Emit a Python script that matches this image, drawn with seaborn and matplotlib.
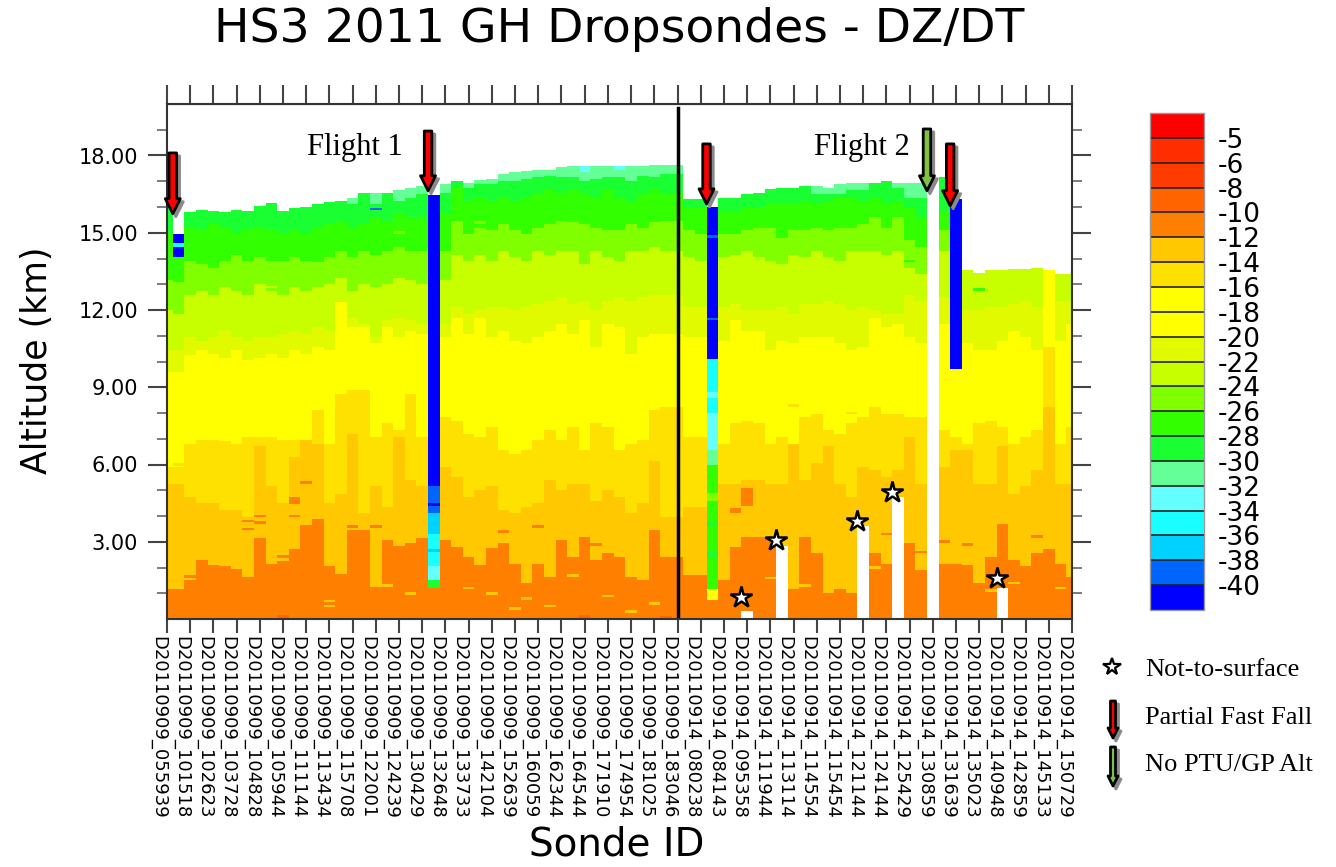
import numpy as np
import matplotlib
matplotlib.use('Agg')
import matplotlib.pyplot as plt
import matplotlib.transforms as mtransforms
from matplotlib.colors import ListedColormap, BoundaryNorm
from matplotlib.patches import FancyArrowPatch
from matplotlib.lines import Line2D
import seaborn as sns

# labelled sondes (every other column of the raster carries a label)
sonde_ids = ['D20110909_055939', 'D20110909_101518', 'D20110909_102623', 'D20110909_103728',
             'D20110909_104828', 'D20110909_105944', 'D20110909_111144', 'D20110909_113434',
             'D20110909_115708', 'D20110909_122001', 'D20110909_124239', 'D20110909_130429',
             'D20110909_132648', 'D20110909_133733', 'D20110909_142104', 'D20110909_152639',
             'D20110909_160059', 'D20110909_162344', 'D20110909_164544', 'D20110909_171910',
             'D20110909_174954', 'D20110909_181025', 'D20110909_183046', 'D20110914_080238',
             'D20110914_084143', 'D20110914_095358', 'D20110914_111944', 'D20110914_113114',
             'D20110914_114554', 'D20110914_115454', 'D20110914_121144', 'D20110914_124144',
             'D20110914_125429', 'D20110914_130859', 'D20110914_131639', 'D20110914_135023',
             'D20110914_140948', 'D20110914_142859', 'D20110914_145133', 'D20110914_150729']

# colour levels of DZ/DT (m/s)
levels = [-40, -38, -36, -34, -32, -30, -28, -26, -24, -22, -20, -18, -16, -14, -12, -10, -8, -6, -5]
colors = ['#0000FF', '#0064FF', '#00D2FF', '#19FFFF', '#64FFFF', '#64FF96', '#19FF32', '#32FF00',
          '#80FF00', '#C8FF00', '#E1FA00', '#FFFF00', '#FFFF00', '#FFE100', '#FFC800', '#FF8000',
          '#FF6400', '#FF3C00', '#FF2D00', '#FF0000']

# per raster column: altitude (km) of the top of data and of each band change, bottom up
top_km = [15.98, 14.05, 15.79, 15.92, 15.83, 15.79, 15.88, 15.85, 16.05, 16.14,
          15.85, 15.95, 16.01, 16.09, 16.18, 16.24, 16.37, 16.53, 16.53, 16.57,
          16.66, 16.73, 16.82, 1.19, 16.91, 16.99, 16.95, 17.04, 17.08, 17.28,
          17.34, 17.40, 17.43, 17.47, 17.53, 17.60, 17.60, 17.60, 17.60, 17.60,
          17.60, 17.60, 17.66, 17.66, 17.66, 16.31, 16.31, 0.74, 16.37, 16.37,
          16.50, 16.57, 16.69, 16.76, 16.76, 16.82, 16.82, 16.76, 16.89, 16.95,
          16.95, 16.95, 16.99, 16.95, 16.95, 16.95, 0.0, 17.15, 9.72, 13.53,
          13.46, 13.53, 13.55, 13.59, 13.59, 13.63, 13.55, 13.42, 13.42]
# -11 band (orange) up to c_bot
c_bot = [1.13, 1.13, 1.71, 2.29, 2.10, 2.03, 1.97, 1.64, 3.13, 2.16,
         2.48, 2.68, 3.65, 3.90, 2.03, 1.77, 3.45, 3.45, 1.25, 3.06,
         2.87, 2.94, 3.13, 1.19, 3.06, 2.81, 2.42, 2.10, 2.74, 2.94,
         2.16, 1.38, 2.16, 1.64, 3.06, 2.42, 3.19, 2.29, 2.55, 2.42,
         1.64, 1.51, 3.45, 2.42, 2.42, 1.71, 1.71, 0.74, 1.51, 2.81,
         3.19, 3.19, 3.19, 2.68, 1.13, 3.19, 2.55, 1.00, 1.13, 1.00,
         1.38, 2.55, 2.16, 2.03, 2.94, 1.90, 0.0, 2.16, 2.16, 2.10,
         1.38, 2.42, 3.71, 2.29, 2.03, 2.55, 2.68, 2.16, 1.64]
d_bot = [5.26, 5.26, 4.74, 4.48, 4.48, 4.23, 4.23, 3.97, 6.68, 5.13,
         4.48, 6.29, 6.94, 6.81, 4.48, 4.87, 7.20, 4.10, 5.13, 4.36,
         7.07, 5.39, 5.13, 1.19, 5.91, 5.52, 4.74, 5.00, 5.13, 4.23,
         4.10, 4.36, 4.48, 5.39, 5.00, 5.26, 5.26, 4.61, 5.00, 4.74,
         4.10, 4.48, 6.16, 3.97, 3.97, 4.36, 4.36, 0.74, 5.26, 5.26,
         5.39, 5.39, 5.26, 5.26, 6.81, 5.39, 6.03, 6.68, 5.26, 4.74,
         5.91, 5.78, 5.52, 5.78, 7.07, 5.26, 0.0, 5.91, 6.55, 6.55,
         5.26, 5.26, 6.68, 4.87, 5.13, 5.78, 8.23, 5.26, 5.26]
y_bot = [5.91, 5.91, 6.81, 6.94, 6.94, 6.88, 6.81, 7.07, 7.07, 7.07,
         6.94, 6.94, 6.94, 8.10, 6.81, 8.75, 8.88, 8.88, 7.07, 7.59,
         7.33, 8.75, 7.07, 1.19, 7.84, 7.71, 7.20, 7.07, 7.46, 6.55,
         6.42, 6.55, 6.94, 7.33, 6.94, 7.46, 6.55, 7.59, 7.46, 6.55,
         6.81, 6.94, 8.10, 8.23, 8.23, 7.07, 7.07, 0.74, 6.81, 7.59,
         7.71, 7.59, 6.81, 7.07, 6.81, 7.84, 7.97, 7.33, 7.20, 7.59,
         7.84, 8.23, 7.97, 7.97, 7.84, 7.84, 0.0, 7.33, 7.07, 6.81,
         7.59, 7.71, 7.46, 6.81, 7.07, 7.33, 10.56, 6.81, 7.46]
f_bot = [9.59, 9.59, 10.23, 10.43, 10.30, 10.17, 10.43, 10.04, 10.17, 10.30,
         10.17, 10.43, 10.30, 10.56, 10.43, 12.30, 11.33, 11.33, 10.69, 11.33,
         10.94, 11.20, 11.07, 1.19, 10.94, 11.72, 11.07, 11.72, 10.94, 11.20,
         10.82, 10.69, 10.94, 11.20, 11.46, 11.07, 11.59, 10.56, 11.46, 11.33,
         10.30, 10.94, 11.07, 11.07, 11.07, 10.94, 10.94, 0.74, 10.82, 11.59,
         11.20, 11.20, 10.43, 10.82, 10.69, 10.94, 10.94, 10.94, 10.69, 10.43,
         10.56, 11.72, 11.33, 11.46, 10.94, 10.69, 0.0, 11.46, 9.72, 10.69,
         10.43, 10.43, 10.82, 11.20, 10.94, 10.43, 13.55, 10.82, 11.46]
g_bot = [10.43, 10.43, 10.94, 10.82, 10.94, 11.20, 10.94, 10.82, 10.94, 10.94,
         11.07, 11.20, 11.07, 11.33, 11.20, 12.30, 11.72, 11.46, 10.94, 11.59,
         11.72, 11.59, 11.46, 1.19, 11.46, 12.11, 11.85, 11.98, 12.11, 12.11,
         11.98, 12.11, 12.24, 12.37, 12.50, 12.24, 12.37, 11.98, 12.37, 12.50,
         12.37, 12.50, 12.62, 12.62, 12.62, 12.11, 12.11, 0.74, 12.11, 12.24,
         11.98, 11.98, 11.98, 12.11, 11.85, 12.24, 12.24, 12.37, 12.24, 11.98,
         12.11, 11.98, 11.85, 11.85, 12.62, 12.37, 0.0, 12.50, 9.72, 11.98,
         11.98, 12.11, 12.11, 12.24, 12.37, 12.11, 13.55, 12.37, 12.37]
h_bot = [11.98, 11.85, 12.62, 12.75, 12.62, 12.88, 12.75, 12.62, 13.01, 12.75,
         12.62, 12.88, 12.75, 12.88, 13.01, 13.27, 12.75, 13.01, 12.88, 13.01,
         13.27, 13.14, 13.01, 1.19, 13.14, 14.17, 13.92, 14.17, 13.92, 14.30,
         14.05, 13.92, 14.30, 14.17, 14.30, 14.30, 13.79, 14.30, 14.05, 13.92,
         14.30, 14.30, 14.43, 14.30, 14.30, 14.05, 13.92, 0.74, 14.05, 14.17,
         14.30, 14.05, 13.92, 13.79, 14.17, 14.05, 14.30, 14.05, 13.92, 14.30,
         14.30, 14.30, 14.17, 14.30, 13.66, 13.40, 0.0, 14.30, 9.72, 13.53,
         13.46, 13.53, 13.55, 13.59, 13.59, 13.63, 13.55, 13.42, 13.42]
i_bot = [13.14, 13.08, 13.92, 13.79, 13.66, 13.92, 14.17, 13.92, 14.05, 13.92,
         13.92, 14.05, 13.92, 13.92, 14.05, 14.30, 14.05, 14.30, 14.17, 14.30,
         14.43, 14.30, 14.30, 1.19, 14.30, 15.47, 14.95, 15.21, 15.08, 15.34,
         15.08, 14.95, 15.21, 15.34, 15.47, 15.40, 15.34, 15.21, 15.08, 15.08,
         15.34, 15.21, 15.40, 15.47, 15.47, 15.08, 14.95, 0.74, 14.95, 14.95,
         15.08, 15.21, 15.21, 14.82, 15.08, 15.08, 15.21, 15.08, 15.21, 15.21,
         15.34, 15.60, 15.21, 15.60, 14.69, 14.43, 0.0, 15.08, 9.72, 13.53,
         13.46, 13.53, 13.55, 13.59, 13.59, 13.63, 13.55, 13.42, 13.42]
j_bot = [14.95, 14.05, 15.21, 15.08, 15.34, 15.21, 14.95, 15.08, 15.21, 15.08,
         14.95, 15.08, 14.95, 15.21, 15.34, 15.47, 15.21, 15.34, 15.60, 15.47,
         15.73, 15.60, 15.60, 1.19, 15.73, 16.76, 16.24, 16.37, 16.24, 16.37,
         16.24, 16.37, 16.50, 16.63, 16.50, 16.63, 16.50, 16.37, 16.63, 16.37,
         16.24, 16.50, 16.63, 16.50, 16.50, 15.98, 15.98, 0.74, 15.85, 15.85,
         15.98, 15.98, 16.11, 16.11, 16.11, 16.24, 16.11, 16.24, 16.37, 16.37,
         16.24, 16.37, 16.11, 16.24, 15.98, 15.60, 0.0, 15.85, 9.72, 13.53,
         13.46, 13.53, 13.55, 13.59, 13.59, 13.63, 13.55, 13.42, 13.42]
# start of the -31 band at the top (20 = none)
k_bot = [20.0] * 16 + [16.11, 20.0, 16.11, 20.0, 16.24, 16.37, 16.50, 20.0, 16.57, 20.0,
         16.76, 16.89, 16.89, 17.02, 17.02, 17.08, 17.15, 17.21, 17.15, 17.15,
         17.02, 17.08, 17.15, 17.15, 17.02, 17.21, 17.15, 17.28, 17.28] + [20.0] * 11 + \
        [16.50, 16.50, 16.50, 16.63, 16.63, 20.0, 20.0, 16.76, 16.37, 16.37] + [20.0] * 13
band_vals = [-11, -13, -15, -18, -21, -23, -25, -27, -29, -31]

# fast-fall and other odd pieces: column, bottom km, top km, value
special = [(1, 14.05, 14.96, -45), (1, 14.45, 14.58, -35), (18, 15.88, 15.96, -39),
           (23, 1.19, 1.52, -29), (23, 1.52, 2.03, -33), (23, 2.03, 3.32, -35), (23, 2.6, 2.7, -37),
           (23, 3.32, 4.10, -37), (23, 4.10, 5.13, -39), (23, 4.4, 4.5, -45), (23, 5.13, 16.43, -45),
           (36, 17.35, 17.60, -33), (39, 17.45, 17.60, -33),
           (47, 0.74, 1.13, -19), (47, 1.13, 6.0, -27), (47, 2.4, 2.6, -29), (47, 3.6, 3.8, -29),
           (47, 4.6, 4.9, -25), (47, 6.0, 6.55, -31), (47, 6.55, 8.0, -33), (47, 8.0, 10.1, -35),
           (47, 8.6, 8.8, -33), (47, 10.1, 15.98, -45), (47, 11.6, 11.7, -39), (47, 14.8, 14.9, -39),
           (68, 9.72, 16.30, -45), (11, 4.45, 4.75, -11), (50, 4.40, 5.10, -11), (49, 4.1, 4.3, -11)]

# thin one-level streaks: column, altitude km, value
streaks = [(1, 6.0, -15), (2, 1.55, -13), (4, 2.2, -13), (5, 2.1, -13), (7, 3.5, -11), (7, 3.8, -11),
           (8, 4.0, -11), (8, 3.75, -11), (10, 2.3, -13), (11, 4.0, -11), (12, 5.3, -11), (14, 0.7, -13),
           (14, 0.5, -13), (16, 3.6, -11), (18, 3.6, -11), (19, 1.3, -13), (21, 1.0, -13), (13, 13.9, -27),
           (5, 13.1, -25), (9, 12.9, -23), (17, 13.6, -25), (20, 15.0, -25), (26, 1.2, -13), (28, 1.0, -13),
           (30, 0.4, -13), (31, 0.8, -13), (33, 0.5, -13), (35, 1.7, -13), (38, 0.9, -13), (40, 0.3, -13),
           (42, 0.6, -13), (29, 3.4, -11), (32, 3.6, -11), (37, 2.9, -11), (41, 3.3, -13), (39, 14.8, -25),
           (34, 14.6, -25), (27, 15.4, -25), (45, 1.9, -13), (46, 2.3, -13), (48, 2.0, -13), (52, 1.6, -13),
           (55, 1.3, -13), (57, 2.4, -13), (58, 1.8, -13), (61, 2.0, -13), (62, 3.3, -11), (65, 2.6, -11),
           (67, 3.0, -11), (69, 2.9, -11), (71, 1.1, -13), (73, 1.4, -13), (75, 3.2, -11), (77, 1.2, -13),
           (78, 2.0, -13), (54, 8.3, -15), (59, 8.0, -15), (64, 13.9, -27), (70, 12.8, -27), (36, 0.1, -9),
           (10, 0.1, -9), (43, 0.05, -9), (56, 14.8, -25), (60, 13.2, -23)]

# not-to-surface sondes
gap_cols = [50, 53, 60, 63, 72]
gap_top = [0.28, 2.85, 3.62, 4.74, 1.21]
star_alt = [0.85, 3.05, 3.80, 4.93, 1.60]

# partial fast fall arrows and the no PTU/GP altitude arrow
ff_cols = [1, 23, 47, 68]
ff_tail = [18.10, 18.95, 18.45, 18.45]
ff_tip = [15.74, 16.63, 16.12, 16.05]
noptu_cols = [66]
noptu_tail = [19.03]
noptu_tip = [16.63]

flight_split = 22  # label index of the last flight 1 sonde

ncol = len(top_km)
dz = 0.05
nz = 400
alt = (np.arange(nz) + 0.5) * dz
grid = np.full((nz, ncol), np.nan)
for k in range(ncol):
    bounds = np.maximum.accumulate([c_bot[k], d_bot[k], y_bot[k], f_bot[k], g_bot[k],
                                    h_bot[k], i_bot[k], j_bot[k], k_bot[k]])
    vals = np.array(band_vals)[np.searchsorted(bounds, alt, side='right')]
    grid[:, k] = np.where(alt < top_km[k], vals, np.nan)
for c, a, v in streaks:
    rows = (alt >= a - 0.05) & (alt < a + 0.05) & ~np.isnan(grid[:, c])
    grid[rows, c] = v
for c, t in zip(gap_cols, gap_top):
    grid[alt < t, c] = np.nan
for c, b, t, v in special:
    grid[(alt >= b) & (alt < t), c] = v

cmap = ListedColormap(colors)
norm = BoundaryNorm(levels, len(colors), extend='both')

W, H = 1336, 867
fig = plt.figure(figsize=(W / 100, H / 100), dpi=100)
ax = fig.add_axes([167 / W, 1 - 619 / H, 905 / W, 515 / H])
cax = fig.add_axes([1150 / W, 1 - 610 / H, 54 / W, 497 / H])

sns.heatmap(grid, ax=ax, cbar_ax=cax, cmap=cmap, norm=norm, xticklabels=False, yticklabels=False,
            cbar_kws=dict(ticks=levels, extend='both', extendrect=True, extendfrac='auto', drawedges=True))
ax.set_xlim(0.5, ncol - 0.5)
ax.set_ylim(0, nz)
for s in ax.spines.values():
    s.set_visible(True)
    s.set_linewidth(1.5)
    s.set_color('#333333')

xt = [2 * i + 0.5 for i in range(len(sonde_ids))]
ax.set_xticks(xt)
ax.set_xticklabels(sonde_ids, rotation=-90, ha='right', va='top', fontsize=13)
ytk = np.arange(3, 19, 3)
ax.set_yticks(ytk / dz)
ax.set_yticklabels([f'{v:.2f}' for v in ytk], fontsize=15)
ax.set_yticks(np.arange(1, 20) / dz, minor=True)
ax.tick_params(axis='x', direction='out', length=10, width=1.5, color='#444444', pad=2)
ax.tick_params(axis='y', which='major', direction='out', length=14, width=1.5, color='#444444',
               right=True, pad=7)
ax.tick_params(axis='y', which='minor', direction='out', length=7, width=1.2, color='#666666', right=True)
secx = ax.secondary_xaxis('top')
secx.set_xticks(xt)
secx.set_xticklabels([])
secx.tick_params(direction='out', length=14, width=1.5, color='#444444')

ax.set_ylabel('Altitude (km)', fontsize=25)
ax.yaxis.set_label_coords(-0.125, 0.503)
ax.set_xlabel('Sonde ID', fontsize=28)
ax.xaxis.set_label_coords(0.497, -0.40)
fig.text(619.5 / W, 1 - 30 / H, 'HS3 2011 GH Dropsondes - DZ/DT', ha='center', va='center', fontsize=34)

ax.axvline(2 * flight_split + 0.5, ymax=0.992, color='black', lw=2.5)
ax.text(0.208, 0.915, 'Flight 1', transform=ax.transAxes, ha='center', va='center',
        fontsize=22, family='Liberation Serif')
ax.text(0.768, 0.915, 'Flight 2', transform=ax.transAxes, ha='center', va='center',
        fontsize=22, family='Liberation Serif')

cb = ax.collections[0].colorbar
cb.set_ticks(levels, labels=[str(v) for v in levels])
cb.ax.tick_params(length=0, labelsize=19, pad=10)
cb.outline.set_linewidth(1)
cb.outline.set_edgecolor('#999999')
cb.dividers.set_color('#222222')
cb.dividers.set_linewidth(1.2)

shadow = mtransforms.ScaledTranslation(3 / 100, -3 / 100, fig.dpi_scale_trans)


def down_arrow(x, y0, y1, face, trans, scale):
    style = 'simple,head_length=0.9,head_width=0.9,tail_width=0.45'
    for fc, ec, tr, z in [('#8a8a8a', '#8a8a8a', trans + shadow, 6), (face, 'black', trans, 7)]:
        p = FancyArrowPatch((x, y0), (x, y1), arrowstyle=style, mutation_scale=scale, fc=fc, ec=ec,
                            lw=2, transform=tr, clip_on=False, zorder=z, shrinkA=0, shrinkB=0)
        fig.add_artist(p)


for c, t0, t1 in zip(ff_cols, ff_tail, ff_tip):
    down_arrow(c, t0 / dz, t1 / dz, '#FF0000', ax.transData, 12)
for c, t0, t1 in zip(noptu_cols, noptu_tail, noptu_tip):
    down_arrow(c, t0 / dz, t1 / dz, '#7FC241', ax.transData, 12)
ax.plot(np.array(gap_cols), np.array(star_alt) / dz, ls='none', marker='*', ms=16, mfc='white',
        mec='black', mew=1.8, zorder=8, clip_on=False)

# legend in pixel coordinates of the picture
pix = mtransforms.Affine2D().scale(1, -1).translate(0, H)
fig.add_artist(Line2D([1112], [667], ls='none', marker='*', ms=13, mfc='white', mec='black', mew=1.6,
                      transform=pix))
down_arrow(1113, 701, 738, '#FF0000', pix, 8)
down_arrow(1113, 747, 786, '#7FC241', pix, 8)
for y, s in [(670, 'Not-to-surface'), (718, 'Partial Fast Fall'), (765, 'No PTU/GP Alt')]:
    fig.text(1145, y, s, transform=pix, va='center', ha='left', fontsize=19, family='Liberation Serif')

fig.savefig('out.png', dpi=100)
